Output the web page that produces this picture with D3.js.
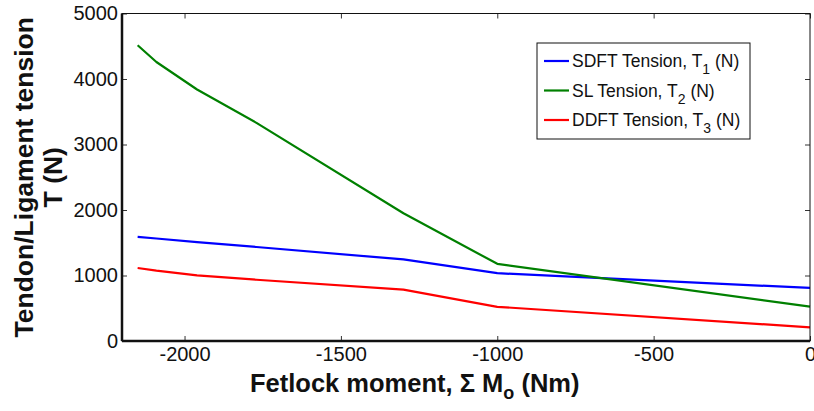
<!DOCTYPE html>
<html>
<head>
<meta charset="utf-8">
<script src="https://cdn.jsdelivr.net/npm/d3@7"></script>
<style>
  body { margin: 0; background: #fff; }
  svg { display: block; font-family: "Liberation Sans", Arial, sans-serif; }
</style>
</head>
<body>
<div id="chart"></div>
<script>
// fetlock moment (Nm)
const moments = [-2150, -2090, -1960, -1770, -1300, -1000, 0]
// tensions (N)
const sdft = [1590, 1565, 1510, 1435, 1245, 1035, 810]
const sl   = [4515, 4260, 3840, 3330, 1950, 1178, 525]
const ddft = [1115, 1075, 1003, 935, 785, 522, 209]

const xTicks = [-2000, -1500, -1000, -500, 0]
const yTicks = [0, 1000, 2000, 3000, 4000, 5000]

const series = [
  {name: "SDFT Tension, T", sub: "1", values: sdft, color: "#0000ff"},
  {name: "SL Tension, T",   sub: "2", values: sl,   color: "#008000"},
  {name: "DDFT Tension, T", sub: "3", values: ddft, color: "#ff0000"}
]

const W = 814, H = 411
const margin = {top: 13.5, right: 4, bottom: 70, left: 122}
const width = W - margin.left - margin.right
const height = H - margin.top - margin.bottom

const svg = d3.select("#chart").append("svg")
  .attr("width", W).attr("height", H)

const g = svg.append("g")
  .attr("transform", "translate(" + margin.left + "," + margin.top + ")")

const x = d3.scaleLinear().domain([-2200, 0]).range([0, width])
const y = d3.scaleLinear().domain([0, 5000]).range([height, 0])

// lines
const line = d3.line()
  .x((d, i) => x(moments[i]))
  .y(d => y(d))

series.forEach(s => {
  g.append("path")
    .attr("d", line(s.values))
    .attr("fill", "none")
    .attr("stroke", s.color)
    .attr("stroke-width", 2.2)
    .attr("stroke-linejoin", "round")
})

// axes (MATLAB box style, ticks pointing in)
const tickLen = 5
const fmt = d => String(d)
g.append("g").attr("class", "axisx")
  .attr("transform", "translate(0," + height + ")")
  .call(d3.axisBottom(x).tickValues(xTicks).tickSizeInner(-tickLen).tickSizeOuter(0).tickPadding(6).tickFormat(fmt))
g.append("g")
  .call(d3.axisTop(x).tickValues(xTicks).tickSizeInner(-tickLen).tickSizeOuter(0).tickFormat(""))
g.append("g").attr("class", "axisy")
  .call(d3.axisLeft(y).tickValues(yTicks).tickSizeInner(-tickLen).tickSizeOuter(0).tickPadding(4).tickFormat(fmt))
g.append("g")
  .attr("transform", "translate(" + width + ",0)")
  .call(d3.axisRight(y).tickValues(yTicks).tickSizeInner(-tickLen).tickSizeOuter(0).tickFormat(""))

g.selectAll(".domain").remove()
g.selectAll(".tick line").attr("stroke", "#333").attr("stroke-width", 1)
g.selectAll(".tick text")
  .attr("font-size", 20)
  .attr("font-family", "Liberation Sans, Arial, sans-serif")
  .attr("fill", "#111")

// box
g.append("rect")
  .attr("width", width).attr("height", height)
  .attr("fill", "none")
  .attr("stroke", "#111")
  .attr("stroke-width", 1)
g.append("line").attr("x1", 0).attr("x2", 0).attr("y1", 0).attr("y2", height)
  .attr("stroke", "#111").attr("stroke-width", 2.5)
g.append("line").attr("x1", 0).attr("x2", width).attr("y1", height).attr("y2", height)
  .attr("stroke", "#111").attr("stroke-width", 2.5)

// axis labels
const xl = svg.append("text")
  .attr("x", 250).attr("y", 392)
  .attr("font-size", 25.5).attr("font-weight", "bold").attr("fill", "#111")
xl.append("tspan").text("Fetlock moment, \u03A3 M")
xl.append("tspan").attr("font-size", 18).attr("dy", 7).text("o")
xl.append("tspan").attr("dy", -7).text(" (Nm)")

const yl = svg.append("text")
  .attr("transform", "translate(33," + (margin.top + height / 2) + ") rotate(-90)")
  .attr("text-anchor", "middle")
  .attr("font-size", 26.5).attr("font-weight", "bold").attr("fill", "#111")
yl.append("tspan").attr("x", 0).attr("y", 0).text("Tendon/Ligament tension")
yl.append("tspan").attr("x", 0).attr("y", 29).text("T (N)")

// legend
const lg = svg.append("g").attr("transform", "translate(537,43)")
lg.append("rect").attr("width", 213).attr("height", 96)
  .attr("fill", "#fff").attr("stroke", "#111").attr("stroke-width", 1)
series.forEach((s, i) => {
  const row = lg.append("g").attr("transform", "translate(0," + (18 + i * 29.5) + ")")
  row.append("line").attr("x1", 7).attr("x2", 32).attr("y1", 0).attr("y2", 0)
    .attr("stroke", s.color).attr("stroke-width", 2.2)
  const t = row.append("text").attr("x", 35).attr("y", 6)
    .attr("font-size", 17.5).attr("fill", "#111")
  t.append("tspan").text(s.name)
  t.append("tspan").attr("font-size", 14).attr("dy", 7).text(s.sub)
  t.append("tspan").attr("dy", -7).text(" (N)")
})
</script>
</body>
</html>
